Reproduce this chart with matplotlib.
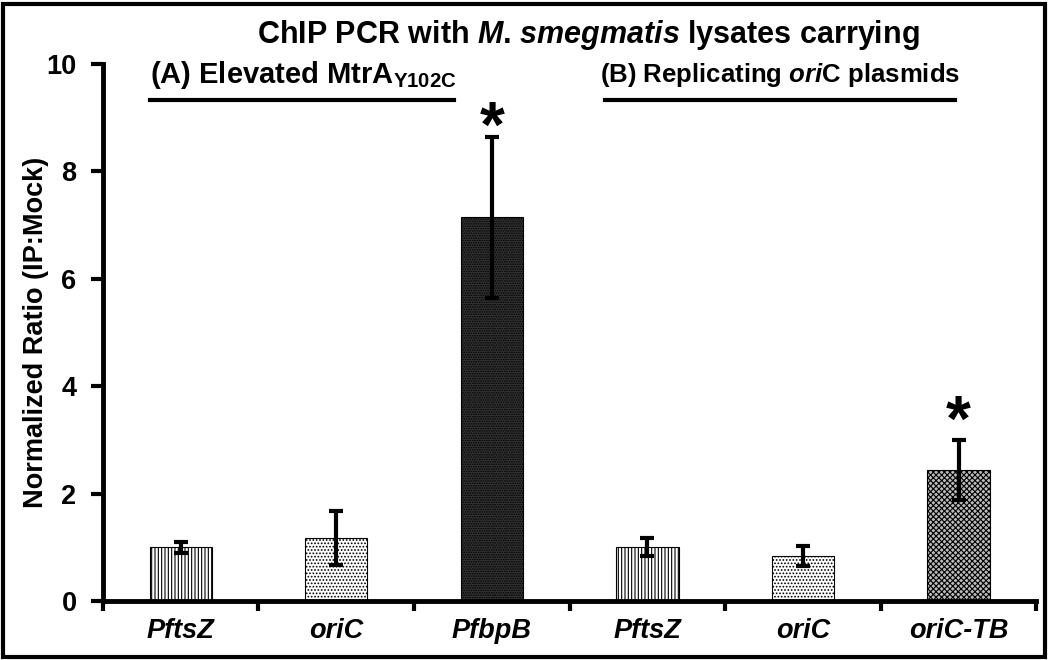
import matplotlib.pyplot as plt
import numpy as np
from matplotlib.patches import Rectangle

plt.rcParams['font.family'] = ['Liberation Sans', 'DejaVu Sans']
plt.rcParams['mathtext.fontset'] = 'custom'
plt.rcParams['mathtext.rm'] = 'Liberation Sans:bold'
plt.rcParams['mathtext.it'] = 'Liberation Sans:bold:italic'
plt.rcParams['mathtext.bf'] = 'Liberation Sans:bold'
plt.rcParams['hatch.linewidth'] = 0.8

# data
labels = ['PftsZ', 'oriC', 'PfbpB', 'PftsZ', 'oriC', 'oriC-TB']
values = [1.0, 1.17, 7.15, 1.0, 0.84, 2.44]
errors = [0.1, 0.5, 1.5, 0.17, 0.18, 0.55]
hatches = ['|||||', '.....', '.......', '|||||', '.....', 'xxxxxx']
faces = ['white', 'white', '#333333', 'white', 'white', '#bbbbbb']
star_at = {2: 8.78, 5: 3.3}

fig = plt.figure(figsize=(10.5, 6.6), dpi=100)
ax = fig.add_axes([0.098, 0.0894, 0.889, 0.8136])

x = np.arange(len(labels))
for i in range(len(labels)):
    ax.bar(x[i], values[i], width=0.4, color=faces[i], edgecolor='black',
           hatch=hatches[i], linewidth=0.8, zorder=2)
ax.errorbar(x, values, yerr=errors, fmt='none', ecolor='black',
            elinewidth=3, capsize=5, capthick=3, zorder=3)

for i, yv in star_at.items():
    ax.text(x[i], yv, '*', ha='center', va='center', fontsize=46,
            fontweight='bold', zorder=4)

ax.set_xlim(-0.5, len(labels) - 0.5)
ax.set_ylim(0, 10)
ax.set_yticks([0, 2, 4, 6, 8, 10])
ax.set_xticks(np.arange(-0.5, len(labels), 1.0))
ax.set_xticklabels([])
ax.tick_params(axis='x', direction='out', length=7, width=3)
ax.tick_params(axis='y', direction='out', length=9, width=3, labelsize=19.5, pad=10)
for t in ax.get_yticklabels():
    t.set_fontweight('bold')
for i, lab in enumerate(labels):
    ax.text(x[i], -0.55, lab, ha='center', va='center', fontsize=19.5,
            fontweight='bold', fontstyle='italic')

for s in ['top', 'right']:
    ax.spines[s].set_visible(False)
ax.spines['left'].set_linewidth(3.5)
ax.spines['bottom'].set_linewidth(3.5)
ax.set_ylabel('Normalized Ratio (IP:Mock)', fontsize=19.5, fontweight='bold')
ax.yaxis.set_label_coords(-0.058, 0.5)

# group lines and headings
ax.plot([-0.2, 1.76], [9.33, 9.33], color='black', lw=3, clip_on=False)
ax.plot([2.73, 4.98], [9.33, 9.33], color='black', lw=3, clip_on=False)
fig.text(0.289, 0.886, r'(A) Elevated MtrA$_{\mathrm{Y102C}}$', ha='center',
         va='center', fontsize=21, fontweight='bold')
fig.text(0.743, 0.886, r'(B) Replicating $\mathit{ori}$C plasmids',
         ha='center', va='center', fontsize=18.5, fontweight='bold')
fig.text(0.56, 0.947, r'ChIP PCR with $\mathit{M}$. $\mathit{smegmatis}$ lysates carrying',
         ha='center', va='center', fontsize=22, fontweight='bold')

fig.patches.append(Rectangle((0.003, 0.004), 0.992, 0.99, transform=fig.transFigure,
                             fill=False, edgecolor='black', lw=3))

plt.savefig('out.png', dpi=100)
